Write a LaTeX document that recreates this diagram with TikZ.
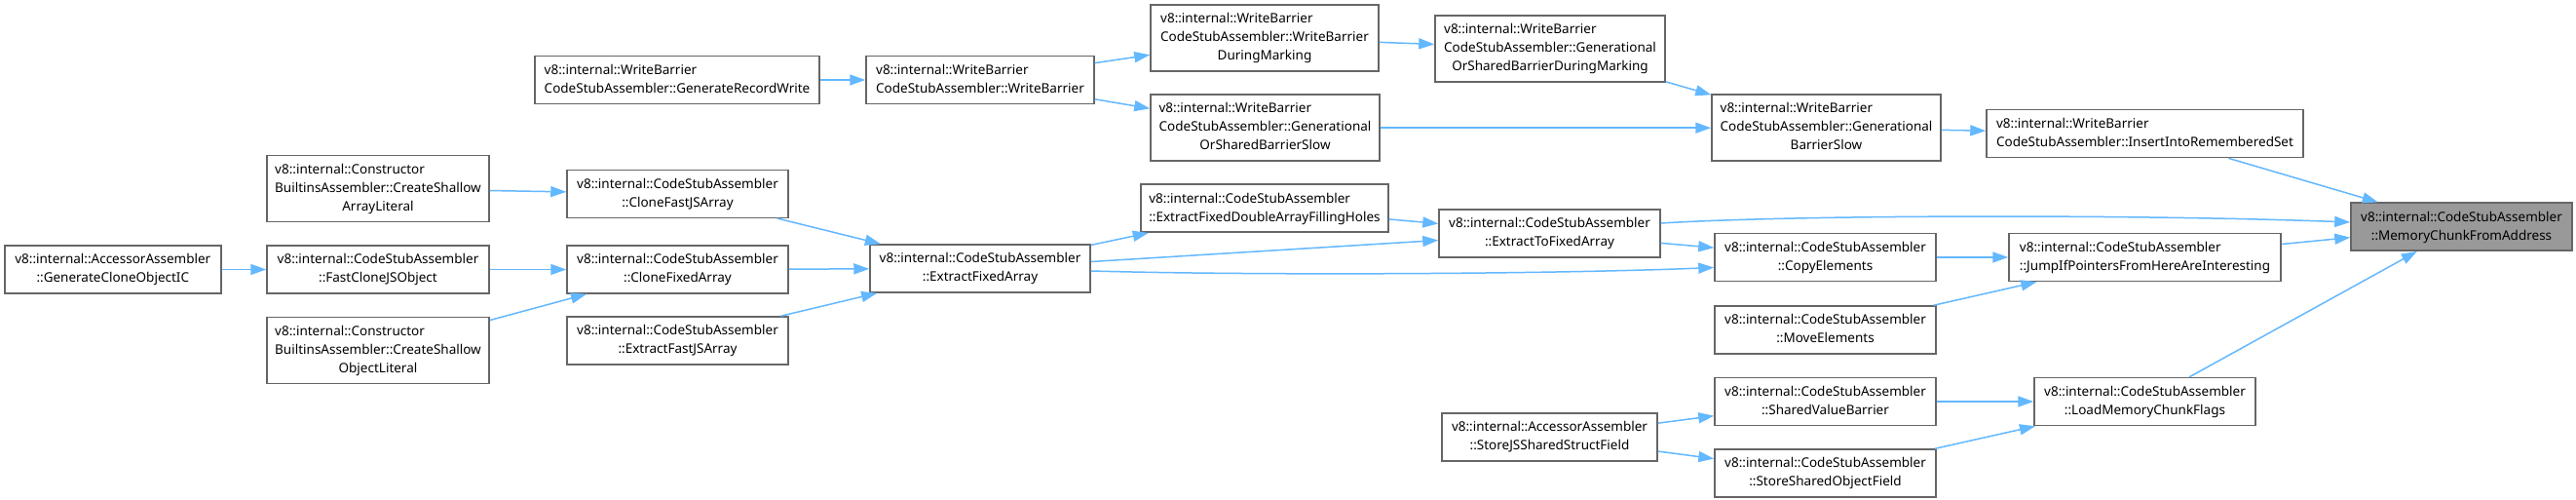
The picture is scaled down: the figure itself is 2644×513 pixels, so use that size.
\documentclass[tikz,border=0pt]{standalone}
\usepackage{fontspec}
\setmainfont{Noto Sans}
\usetikzlibrary{arrows.meta}
\definecolor{edgeblue}{HTML}{63B8FF}
\definecolor{boxgray}{HTML}{666666}
\definecolor{mainfill}{HTML}{999999}
\newcommand\glabel[2]{\begin{tabular}{@{}l@{}}#1\\\multicolumn{1}{@{}c@{}}{#2}\end{tabular}}
\begin{document}
\begin{tikzpicture}[x=1pt,y=-1pt,
  box/.style={draw=boxgray, line width=1.5pt, fill=white, inner sep=0pt, rectangle,
    font=\fontsize{13.5}{19}\selectfont},
  mainbox/.style={box, fill=mainfill},
  w2/.style={minimum height=49pt},
  w3/.style={minimum height=68pt},
  call/.style={draw=edgeblue, line width=1.5pt, -{Triangle[length=16pt,width=11pt]}, shorten >=0pt}
]
\path[fill=white] (0,0) rectangle (2644,513);
\useasboundingbox (0,0) rectangle (2644,513);

% nodes
\node[box,w2,minimum width=292pt] (grw) at (695,82) {\glabel{v8::internal::WriteBarrier}{CodeStubAssembler::GenerateRecordWrite}};
\node[box,w2,minimum width=234pt] (wb) at (1006,82) {\glabel{v8::internal::WriteBarrier}{CodeStubAssembler::WriteBarrier}};
\node[box,w3,minimum width=234pt] (wbdm) at (1298,39) {\glabel{v8::internal::WriteBarrier\\CodeStubAssembler::WriteBarrier}{DuringMarking}};
\node[box,w3,minimum width=235pt] (gosbs) at (1298.5,131.2) {\glabel{v8::internal::WriteBarrier\\CodeStubAssembler::Generational}{OrSharedBarrierSlow}};
\node[box,w3,minimum width=236pt] (gosbdm) at (1591,49.8) {\glabel{v8::internal::WriteBarrier\\CodeStubAssembler::Generational}{OrSharedBarrierDuringMarking}};
\node[box,w3,minimum width=235pt] (gbs) at (1874.5,131.2) {\glabel{v8::internal::WriteBarrier\\CodeStubAssembler::Generational}{BarrierSlow}};
\node[box,w2,minimum width=325pt] (iirs) at (2201.5,137.1) {\glabel{v8::internal::WriteBarrier}{CodeStubAssembler::InsertIntoRememberedSet}};
\node[mainbox,w2,minimum width=227pt] (mcfa) at (2526.5,232.7) {\glabel{v8::internal::CodeStubAssembler}{::MemoryChunkFromAddress}};

\node[box,w3,minimum width=228pt] (csal) at (388,193.6) {\glabel{v8::internal::Constructor\\BuiltinsAssembler::CreateShallow}{ArrayLiteral}};
\node[box,w2,minimum width=227pt] (cfjsa) at (695.5,198.8) {\glabel{v8::internal::CodeStubAssembler}{::CloneFastJSArray}};
\node[box,w2,minimum width=222pt] (gcoic) at (115.8,276.5) {\glabel{v8::internal::AccessorAssembler}{::GenerateCloneObjectIC}};
\node[box,w2,minimum width=228pt] (fcjso) at (388,276.5) {\glabel{v8::internal::CodeStubAssembler}{::FastCloneJSObject}};
\node[box,w2,minimum width=227pt] (cfa) at (695.5,276.5) {\glabel{v8::internal::CodeStubAssembler}{::CloneFixedArray}};
\node[box,w3,minimum width=228pt] (csol) at (388,359.5) {\glabel{v8::internal::Constructor\\BuiltinsAssembler::CreateShallow}{ObjectLiteral}};
\node[box,w2,minimum width=227pt] (efjsa) at (695.5,349.5) {\glabel{v8::internal::CodeStubAssembler}{::ExtractFastJSArray}};
\node[box,w2,minimum width=226pt] (efa) at (1006,275.5) {\glabel{v8::internal::CodeStubAssembler}{::ExtractFixedArray}};
\node[box,w2,minimum width=254pt] (efdafh) at (1298,213.7) {\glabel{v8::internal::CodeStubAssembler}{::ExtractFixedDoubleArrayFillingHoles}};
\node[box,w2,minimum width=227pt] (etfa) at (1590.5,239.5) {\glabel{v8::internal::CodeStubAssembler}{::ExtractToFixedArray}};
\node[box,w2,minimum width=227pt] (ce) at (1873.5,264) {\glabel{v8::internal::CodeStubAssembler}{::CopyElements}};
\node[box,w2,minimum width=279pt] (jump) at (2201.5,264) {\glabel{v8::internal::CodeStubAssembler}{::JumpIfPointersFromHereAreInteresting}};
\node[box,w2,minimum width=227pt] (me) at (1873.5,338.5) {\glabel{v8::internal::CodeStubAssembler}{::MoveElements}};
\node[box,w2,minimum width=227pt] (svb) at (1873.5,412) {\glabel{v8::internal::CodeStubAssembler}{::SharedValueBarrier}};
\node[box,w2,minimum width=227pt] (lmcf) at (2201.5,412) {\glabel{v8::internal::CodeStubAssembler}{::LoadMemoryChunkFlags}};
\node[box,w2,minimum width=227pt] (ssof) at (1873.5,485.5) {\glabel{v8::internal::CodeStubAssembler}{::StoreSharedObjectField}};
\node[box,w2,minimum width=221pt] (sjsssf) at (1590.5,448.5) {\glabel{v8::internal::AccessorAssembler}{::StoreJSSharedStructField}};

% edges
\draw[call] (grw) -- (wb);
\draw[call] (wb) -- (wbdm);
\draw[call] (wb) -- (gosbs);
\draw[call] (wbdm) -- (gosbdm);
\draw[call] (gosbdm) -- (gbs);
\draw[call] (gosbs) -- (gbs);
\draw[call] (gbs) -- (iirs);
\draw[call] (iirs) -- (mcfa);
\draw[call] ([yshift=10.5pt]etfa.east) .. controls (1850,220) and (2200,220) .. ([yshift=4.7pt]mcfa.west);
\draw[call] (etfa) -- (ce);
\draw[call] ([yshift=-2.5pt]efa.east) .. controls (1300,283) and (1600,281) .. ([yshift=-10.5pt]ce.west);
\draw[call] (efa) -- (etfa);
\draw[call] (efa) -- (efdafh);
\draw[call] (efdafh) -- (etfa);
\draw[call] (ce) -- (jump);
\draw[call] (me) -- (jump);
\draw[call] (jump) -- (mcfa);
\draw[call] (lmcf) -- (mcfa);
\draw[call] (svb) -- (lmcf);
\draw[call] (ssof) -- (lmcf);
\draw[call] (sjsssf) -- (svb);
\draw[call] (sjsssf) -- (ssof);
\draw[call] (csal) -- (cfjsa);
\draw[call] (gcoic) -- (fcjso);
\draw[call] (fcjso) -- (cfa);
\draw[call] (csol) -- (cfa);
\draw[call] (cfjsa) -- (efa);
\draw[call] (cfa) -- (efa);
\draw[call] (efjsa) -- (efa);
\end{tikzpicture}
\end{document}
